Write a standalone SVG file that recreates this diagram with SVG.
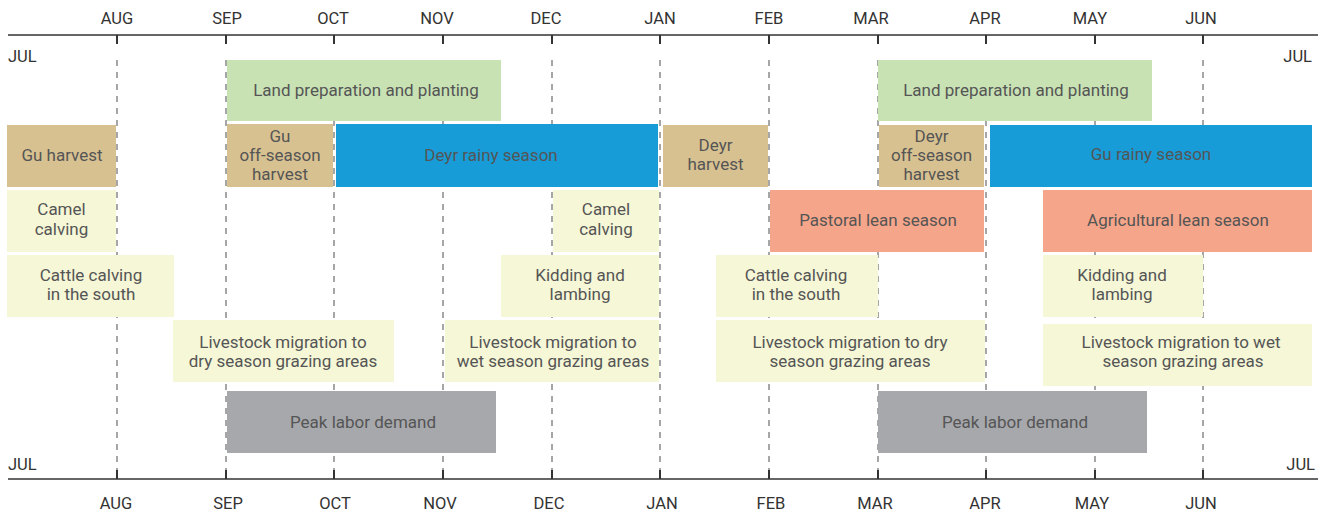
<svg xmlns="http://www.w3.org/2000/svg" width="1322" height="513" viewBox="0 0 1322 513">
<style>
.axis{stroke:#333;stroke-width:1.5;fill:none}
.tick{stroke:#333;stroke-width:2}
.grid{stroke:#777;stroke-width:1.3;stroke-dasharray:6 6}
.mon{font-family:Roboto,"Liberation Sans",sans-serif;font-size:16.5px;fill:#333;text-anchor:middle}
.jul{font-family:Roboto,"Liberation Sans",sans-serif;font-size:16.5px;fill:#333}
.lbl{font-family:Roboto,"Liberation Sans",sans-serif;font-size:17px;fill:#555;text-anchor:middle}
.green{fill:#c8e2b4}
.tan{fill:#d8c191}
.blue{fill:#179cd8}
.cream{fill:#f5f7d7}
.salmon{fill:#f5a68a}
.gray{fill:#a7a8ac}
</style>
<rect width="1322" height="513" fill="#fff"/>
<g id="grid">
<line class="grid" x1="117" y1="60" x2="117" y2="470"/>
<line class="grid" x1="226" y1="60" x2="226" y2="470"/>
<line class="grid" x1="334" y1="60" x2="334" y2="470"/>
<line class="grid" x1="443" y1="60" x2="443" y2="470"/>
<line class="grid" x1="552" y1="60" x2="552" y2="470"/>
<line class="grid" x1="660" y1="60" x2="660" y2="470"/>
<line class="grid" x1="769" y1="60" x2="769" y2="470"/>
<line class="grid" x1="878" y1="60" x2="878" y2="470"/>
<line class="grid" x1="986" y1="60" x2="986" y2="470"/>
<line class="grid" x1="1095" y1="60" x2="1095" y2="470"/>
<line class="grid" x1="1203" y1="60" x2="1203" y2="470"/>
</g>
<g id="axes">
<line class="axis" x1="8" y1="35" x2="1318" y2="35"/>
<line class="axis" x1="8" y1="479" x2="1318" y2="479"/>
<g class="tick">
<line x1="117" y1="35" x2="117" y2="44"/><line x1="226" y1="35" x2="226" y2="44"/><line x1="334" y1="35" x2="334" y2="44"/><line x1="443" y1="35" x2="443" y2="44"/><line x1="552" y1="35" x2="552" y2="44"/><line x1="660" y1="35" x2="660" y2="44"/><line x1="769" y1="35" x2="769" y2="44"/><line x1="878" y1="35" x2="878" y2="44"/><line x1="986" y1="35" x2="986" y2="44"/><line x1="1095" y1="35" x2="1095" y2="44"/><line x1="1203" y1="35" x2="1203" y2="44"/>
<line x1="117" y1="470" x2="117" y2="479"/><line x1="226" y1="470" x2="226" y2="479"/><line x1="334" y1="470" x2="334" y2="479"/><line x1="443" y1="470" x2="443" y2="479"/><line x1="552" y1="470" x2="552" y2="479"/><line x1="660" y1="470" x2="660" y2="479"/><line x1="769" y1="470" x2="769" y2="479"/><line x1="878" y1="470" x2="878" y2="479"/><line x1="986" y1="470" x2="986" y2="479"/><line x1="1095" y1="470" x2="1095" y2="479"/><line x1="1203" y1="470" x2="1203" y2="479"/>
</g>
<text class="mon" x="117" y="24">AUG</text><text class="mon" x="227" y="24">SEP</text><text class="mon" x="333" y="24">OCT</text><text class="mon" x="437" y="24">NOV</text><text class="mon" x="546" y="24">DEC</text><text class="mon" x="660" y="24">JAN</text><text class="mon" x="769" y="24">FEB</text><text class="mon" x="871" y="24">MAR</text><text class="mon" x="985" y="24">APR</text><text class="mon" x="1090" y="24">MAY</text><text class="mon" x="1201" y="24">JUN</text>
<text class="mon" x="116" y="509">AUG</text><text class="mon" x="228" y="509">SEP</text><text class="mon" x="335" y="509">OCT</text><text class="mon" x="440" y="509">NOV</text><text class="mon" x="549" y="509">DEC</text><text class="mon" x="662" y="509">JAN</text><text class="mon" x="771" y="509">FEB</text><text class="mon" x="875" y="509">MAR</text><text class="mon" x="985" y="509">APR</text><text class="mon" x="1092" y="509">MAY</text><text class="mon" x="1201" y="509">JUN</text>
<text class="jul" x="8" y="62">JUL</text>
<text class="jul" x="1312" y="62" text-anchor="end">JUL</text>
<text class="jul" x="8" y="470">JUL</text>
<text class="jul" x="1315" y="470" text-anchor="end">JUL</text>
</g>
<g id="land-prep-1"><rect class="green" x="227" y="60" width="274" height="61"/><text class="lbl" x="366" y="96">Land preparation and planting</text></g>
<g id="land-prep-2"><rect class="green" x="878" y="60" width="274" height="61"/><text class="lbl" x="1016" y="96">Land preparation and planting</text></g>
<g id="gu-harvest"><rect class="tan" x="7" y="125" width="109" height="62"/><text class="lbl" x="62" y="161">Gu harvest</text></g>
<g id="gu-offseason"><rect class="tan" x="227" y="124" width="106" height="63"/><text class="lbl" x="280" y="142">Gu</text><text class="lbl" x="280" y="161">off-season</text><text class="lbl" x="280" y="180">harvest</text></g>
<g id="deyr-rainy"><rect class="blue" x="336" y="124" width="322" height="63"/><text class="lbl" x="491" y="161">Deyr rainy season</text></g>
<g id="deyr-harvest"><rect class="tan" x="663" y="125" width="105" height="62"/><text class="lbl" x="715.5" y="151">Deyr</text><text class="lbl" x="715.5" y="170">harvest</text></g>
<g id="deyr-offseason"><rect class="tan" x="879" y="125" width="105" height="62"/><text class="lbl" x="931.5" y="142">Deyr</text><text class="lbl" x="931.5" y="161">off-season</text><text class="lbl" x="931.5" y="180">harvest</text></g>
<g id="gu-rainy"><rect class="blue" x="990" y="125" width="322" height="62"/><text class="lbl" x="1151" y="160">Gu rainy season</text></g>
<g id="camel-1"><rect class="cream" x="7" y="190" width="109" height="62"/><text class="lbl" x="61.5" y="215">Camel</text><text class="lbl" x="61.5" y="235">calving</text></g>
<g id="camel-2"><rect class="cream" x="553" y="190" width="106" height="62"/><text class="lbl" x="606" y="215">Camel</text><text class="lbl" x="606" y="235">calving</text></g>
<g id="pastoral-lean"><rect class="salmon" x="770" y="190" width="214" height="62"/><text class="lbl" x="878" y="226">Pastoral lean season</text></g>
<g id="agri-lean"><rect class="salmon" x="1043" y="190" width="269" height="62"/><text class="lbl" x="1178" y="226">Agricultural lean season</text></g>
<g id="cattle-1"><rect class="cream" x="7" y="255" width="167" height="62"/><text class="lbl" x="91" y="281">Cattle calving</text><text class="lbl" x="91" y="300">in the south</text></g>
<g id="kidding-1"><rect class="cream" x="501" y="255" width="158" height="62"/><text class="lbl" x="580" y="281">Kidding and</text><text class="lbl" x="580" y="300">lambing</text></g>
<g id="cattle-2"><rect class="cream" x="716" y="255" width="162" height="62"/><text class="lbl" x="796" y="281">Cattle calving</text><text class="lbl" x="796" y="300">in the south</text></g>
<g id="kidding-2"><rect class="cream" x="1043" y="255" width="160" height="62"/><text class="lbl" x="1122" y="281">Kidding and</text><text class="lbl" x="1122" y="300">lambing</text></g>
<g id="migration-dry-1"><rect class="cream" x="173" y="320" width="221" height="62"/><text class="lbl" x="283" y="348">Livestock migration to</text><text class="lbl" x="283" y="367">dry season grazing areas</text></g>
<g id="migration-wet-1"><rect class="cream" x="445" y="320" width="214" height="62"/><text class="lbl" x="553" y="348">Livestock migration to</text><text class="lbl" x="553" y="367">wet season grazing areas</text></g>
<g id="migration-dry-2"><rect class="cream" x="716" y="320" width="269" height="62"/><text class="lbl" x="850" y="348">Livestock migration to dry</text><text class="lbl" x="850" y="367">season grazing areas</text></g>
<g id="migration-wet-2"><rect class="cream" x="1043" y="324" width="269" height="62"/><text class="lbl" x="1181" y="348">Livestock migration to wet</text><text class="lbl" x="1183" y="367">season grazing areas</text></g>
<g id="peak-labor-1"><rect class="gray" x="227" y="391" width="269" height="62"/><text class="lbl" x="363" y="428">Peak labor demand</text></g>
<g id="peak-labor-2"><rect class="gray" x="878" y="391" width="269" height="62"/><text class="lbl" x="1015" y="428">Peak labor demand</text></g>
<g id="connectors"></g>
</svg>
